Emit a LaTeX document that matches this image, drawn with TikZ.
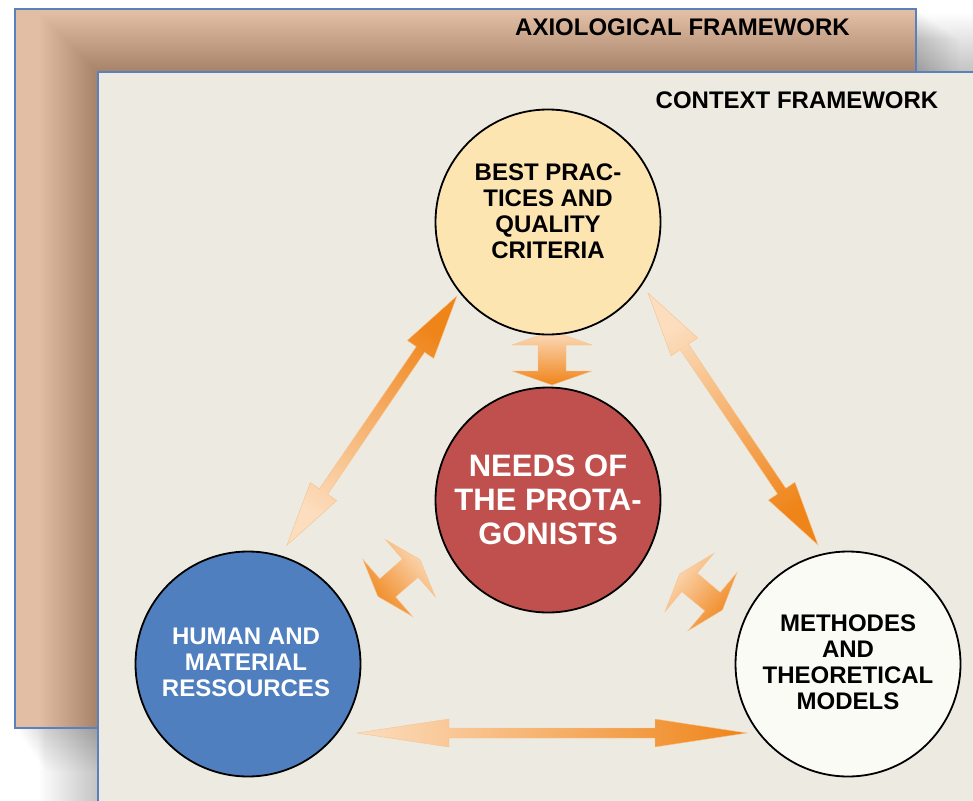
\documentclass[tikz,border=0pt]{standalone}
\usepackage{fontspec}
\setmainfont{Liberation Sans}
\definecolor{backtan}{HTML}{E2BFA4}
\definecolor{frontbg}{HTML}{EDEBE1}
\definecolor{frameblue}{HTML}{5A80BE}
\definecolor{cyellow}{HTML}{FDE5B2}
\definecolor{cred}{HTML}{C0504D}
\definecolor{cblue}{HTML}{4F7FBE}
\definecolor{cwhite}{HTML}{FBFBF6}
\definecolor{olight}{HTML}{FCDDBE}
\definecolor{odark}{HTML}{EF8419}
\newcommand{\blockarrow}[7]{%
  \pgfmathsetmacro\shang{#3-90}%
  \begin{scope}[shift={(#1,#2)},rotate=#3]
    \shade[top color=odark,bottom color=olight,shading angle=\shang,draw=olight!70!odark,line width=0.4pt]
      (-#4,0) -- (-#4+#7,#6) -- (-#4+#7,#5) -- (#4-#7,#5) -- (#4-#7,#6) -- (#4,0)
      -- (#4-#7,-#6) -- (#4-#7,-#5) -- (-#4+#7,-#5) -- (-#4+#7,-#6) -- cycle;
  \end{scope}}
\tikzset{
  circ/.style={circle,draw=black,line width=1.8pt,minimum size=225pt,inner sep=0pt},
  ctext/.style={align=center,font=\fontsize{24}{26}\selectfont\bfseries},
  ttext/.style={font=\fontsize{24}{26}\selectfont\bfseries,inner sep=0pt},
}
\begin{document}
\begin{tikzpicture}[x=1pt,y=-1pt]
\useasboundingbox (0,0) rectangle (973,800);
\clip (0,0) rectangle (973,800);
% shadow of back panel
\foreach \i in {1,...,40} {\fill[black,opacity=0.004] ({15+0.75*\i},{9+0.75*\i}) rectangle ({916+1.1*\i},{728+1.1*\i});}
% back panel
\fill[backtan] (15,9) rectangle (916,728);
% shadow of front panel
\foreach \i in {0,...,59} {\fill[black,opacity=0.0055] ({98-1*\i},{72-1*\i}) rectangle (990,820);}
\draw[frameblue,line width=1.2pt] (15,9) rectangle (916,728);
\node[ttext] (axio) at (682.5,27) {AXIOLOGICAL FRAMEWORK};
% front panel
\fill[frontbg] (98,72) rectangle (990,820);
\draw[frameblue,line width=1.2pt] (990,72) -- (98,72) -- (98,820);
\node[ttext] (ctx) at (797,100) {CONTEXT FRAMEWORK};
% arrows
\blockarrow{372}{420.5}{55.7}{151}{5}{16}{65}
\blockarrow{733}{419}{-56}{152}{5}{16}{65}
\blockarrow{552}{733}{0}{195}{5}{14}{92}
\blockarrow{552}{358}{-90}{27}{14}{40}{14}
\blockarrow{399}{578}{-139}{28}{12}{38}{13}
\blockarrow{701}{592}{-40}{28}{12}{38}{13}
% circles
\node[circ,fill=cyellow] (best) at (548,222) {};
\node[circ,fill=cred] (needs) at (548,500) {};
\node[circ,fill=cblue] (human) at (248,664) {};
\node[circ,fill=cwhite] (meth) at (848,664) {};
\node[ctext] (bestT) at (548,211) {BEST PRAC-\\TICES AND\\QUALITY\\CRITERIA};
\node[ctext,text=white,font=\fontsize{31}{34}\selectfont\bfseries] (needsT) at (548,500) {NEEDS OF\\THE PROTA-\\GONISTS};
\node[ctext,text=white] (humanT) at (246,662) {HUMAN AND\\MATERIAL\\RESSOURCES};
\node[ctext] (methT) at (848,662) {METHODES\\AND\\THEORETICAL\\MODELS};
\end{tikzpicture}
\end{document}
